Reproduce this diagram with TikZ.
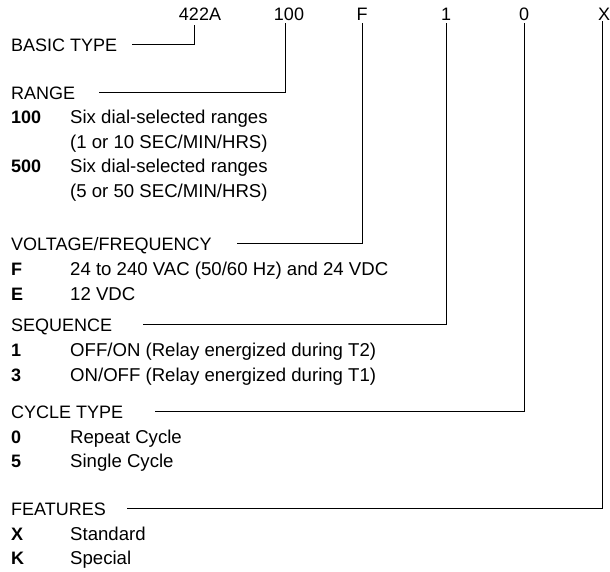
\documentclass[tikz,border=0pt]{standalone}
\usepackage{fontspec}
\setmainfont{Liberation Sans}
\begin{document}
\begin{tikzpicture}[x=1pt,y=-1pt,
  txt/.style={anchor=base west,inner sep=0pt,font=\fontsize{18}{22}\selectfont},
  desc/.style={anchor=base west,inner sep=0pt,font=\fontsize{18.6}{22}\selectfont},
  codetxt/.style={anchor=base west,inner sep=0pt,font=\fontsize{18}{22}\selectfont\bfseries},
  toplbl/.style={anchor=base,inner sep=0pt,font=\fontsize{18}{22}\selectfont},
  conn/.style={line width=0.9pt,black}]
\useasboundingbox (0,0) rectangle (610,571);
% top code labels
\node[toplbl] (tA) at (200,20) {422A};
\node[toplbl] (tB) at (289,20) {100};
\node[toplbl] (tC) at (362,20) {F};
\node[toplbl] (tD) at (446,20) {1};
\node[toplbl] (tE) at (524,20) {0};
\node[toplbl] (tF) at (604,20) {X};
% group headings
\node[txt] (hA) at (11,51) {BASIC TYPE};
\node[txt] (hB) at (11,99) {RANGE};
\node[txt] (hC) at (11,250) {VOLTAGE/FREQUENCY};
\node[txt] (hD) at (11,331) {SEQUENCE};
\node[txt] (hE) at (11,418) {CYCLE TYPE};
\node[txt] (hF) at (11,515) {FEATURES};
% range
\node[codetxt] (c100) at (11,123.5) {100};
\node[desc] (d100a) at (70,123.5) {Six dial-selected ranges};
\node[desc] (d100b) at (70,148) {(1 or 10 SEC/MIN/HRS)};
\node[codetxt] (c500) at (11,172.5) {500};
\node[desc] (d500a) at (70,172.5) {Six dial-selected ranges};
\node[desc] (d500b) at (70,197) {(5 or 50 SEC/MIN/HRS)};
% voltage
\node[codetxt] (cF) at (11,275) {F};
\node[desc] (dF) at (70,275) {24 to 240 VAC (50/60 Hz) and 24 VDC};
\node[codetxt] (cE) at (11,300) {E};
\node[desc] (dE) at (70,300) {12 VDC};
% sequence
\node[codetxt] (c1) at (11,356) {1};
\node[desc] (d1) at (70,356) {OFF/ON (Relay energized during T2)};
\node[codetxt] (c3) at (11,381) {3};
\node[desc] (d3) at (70,381) {ON/OFF (Relay energized during T1)};
% cycle type
\node[codetxt] (c0) at (11,443) {0};
\node[desc] (d0) at (70,443) {Repeat Cycle};
\node[codetxt] (c5) at (11,467) {5};
\node[desc] (d5) at (70,467) {Single Cycle};
% features
\node[codetxt] (cX) at (11,540) {X};
\node[desc] (dX) at (70,540) {Standard};
\node[codetxt] (cK) at (11,564.5) {K};
\node[desc] (dK) at (70,564.5) {Special};
% line start points
\coordinate (sA) at (132,44);
\coordinate (sB) at (99,92);
\coordinate (sC) at (237,243);
\coordinate (sD) at (143,324);
\coordinate (sE) at (155,411);
\coordinate (sF) at (127,508);
% connectors
\draw[conn] (sA) -| ([xshift=-6pt,yshift=-5pt]tA.south);
\draw[conn] (sB) -| ([xshift=-3.3pt,yshift=-3pt]tB.south);
\draw[conn] (sC) -| ([yshift=-3pt]tC.south);
\draw[conn] (sD) -| ([yshift=-3pt]tD.south);
\draw[conn] (sE) -| ([yshift=-3pt]tE.south);
\draw[conn] (sF) -| ([xshift=-1.5pt,yshift=-1pt]tF.south);
\end{tikzpicture}
\end{document}
